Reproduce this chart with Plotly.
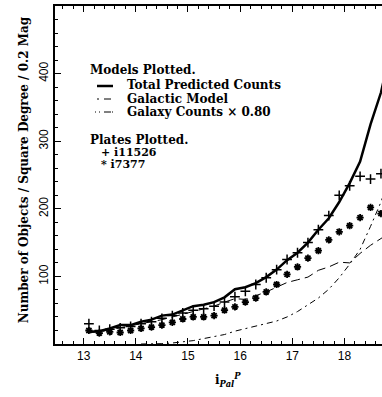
import plotly.graph_objects as go

# ---- data ----
mag_models = [13.1, 13.3, 13.5, 13.7, 13.9, 14.1, 14.3, 14.5, 14.7, 14.9,
              15.1, 15.3, 15.5, 15.7, 15.9, 16.1, 16.3, 16.5, 16.7, 16.9,
              17.1, 17.3, 17.5, 17.7, 17.9, 18.1, 18.3, 18.5, 18.7, 18.9]
total_pred = [18, 19, 23, 28, 28, 33, 36, 42, 43.5, 50,
              56, 58, 62, 69, 81, 84, 90, 99, 110, 124,
              135, 150, 169, 186, 210, 238, 270, 325, 372, 440]
galactic = [17, 18, 21, 24, 26, 30, 33, 36, 40, 44,
            48, 52, 56, 62, 67, 66, 71, 77, 84, 91,
            95, 99, 109, 114, 121, 120, 134, 146, 156, 166]

mag_galaxy = [14.1, 14.3, 14.5, 14.7, 14.9, 15.1, 15.3, 15.5, 15.7, 15.9,
              16.1, 16.3, 16.5, 16.7, 16.9, 17.1, 17.3, 17.5, 17.7, 17.9,
              18.1, 18.3, 18.5, 18.7, 18.9]
galaxy_x080 = [0, 0, 0.5, 1.5, 3, 5, 8, 11, 14, 19,
               23, 27, 31, 34, 40, 48, 58, 68, 81, 98,
               118, 140, 174, 210, 255]

mag_plates = [13.1, 13.3, 13.5, 13.7, 13.9, 14.1, 14.3, 14.5, 14.7, 14.9,
              15.1, 15.3, 15.5, 15.7, 15.9, 16.1, 16.3, 16.5, 16.7, 16.9,
              17.1, 17.3, 17.5, 17.7, 17.9, 18.1, 18.3, 18.5, 18.7]
plate_i11526 = [30, 20, 22, 24, 26, 30, 33, 38, 42, 46,
                50, 52, 56, 62, 70, 78, 88, 98, 110, 125,
                135, 150, 169, 190, 220, 234, 248, 244, 252]
plate_i7377 = [20, 16, 18, 17, 20, 23, 25, 28, 32, 37,
               40, 40, 42, 50, 55, 62, 68, 77, 88, 103,
               114, 127, 138, 154, 166, 175, 187, 202, 193]

x_ticks = [13, 14, 15, 16, 17, 18]
y_ticks = [100, 200, 300, 400]

SERIF = "DejaVu Serif"
SANS = "Liberation Sans"

fig = go.Figure()
fig.add_trace(go.Scatter(x=mag_galaxy, y=galaxy_x080, mode="lines",
                         line=dict(color="black", width=1, dash="6px,4px,2px,4px")))
fig.add_trace(go.Scatter(x=mag_models, y=galactic, mode="lines",
                         line=dict(color="black", width=1, dash="9px,5px")))
fig.add_trace(go.Scatter(x=mag_models, y=total_pred, mode="lines",
                         line=dict(color="black", width=2.5)))
fig.add_trace(go.Scatter(x=mag_plates, y=plate_i11526, mode="markers",
                         marker=dict(symbol="cross-thin-open", size=7, color="black",
                                     line=dict(color="black", width=1.5))))
fig.add_trace(go.Scatter(x=mag_plates, y=plate_i7377, mode="markers",
                         marker=dict(symbol="asterisk-open", size=6, color="black",
                                     line=dict(color="black", width=1.8))))

axis_common = dict(showline=True, linecolor="black", linewidth=1.5,
                   ticks="inside", tickcolor="black", tickwidth=1, ticklen=6,
                   showgrid=False, zeroline=False,
                   tickfont=dict(family=SANS, size=12, color="black"))

fig.update_xaxes(range=[12.45, 18.72], tickvals=x_ticks, mirror="ticks",
                 minor=dict(dtick=0.2, ticks="inside", ticklen=3, tickcolor="black", showgrid=False),
                 **axis_common)
fig.update_yaxes(range=[0, 500], tickvals=y_ticks, mirror=False, tickangle=-90,
                 minor=dict(dtick=20, ticks="inside", ticklen=3, tickcolor="black", showgrid=False),
                 **axis_common)

ann = []
def txt(x, y, s, size=12, **kw):
    d = dict(x=x, y=y, xref="paper", yref="paper", text=s, showarrow=False,
             font=dict(family=SERIF, size=size, color="black"),
             xanchor="left", yanchor="middle")
    d.update(kw)
    ann.append(d)

txt(0.101, 0.811, "<b>Models Plotted.</b>")
txt(0.214, 0.766, "<b>Total Predicted Counts</b>")
txt(0.214, 0.725, "<b>Galactic Model</b>")
txt(0.214, 0.686, "<b>Galaxy Counts × 0.80</b>")
txt(0.101, 0.604, "<b>Plates Plotted.</b>")
txt(0.135, 0.568, "<b>+ i11526</b>", size=11)
txt(0.135, 0.530, "<b>* i7377</b>", size=11)
# axis titles
txt(-0.094, 0.515, "<b>Number of Objects / Square Degree / 0.2 Mag</b>",
    xanchor="center", textangle=-90)
txt(0.529, -0.106, "<b>i<sub><i>Pal</i></sub><sup><i>P</i></sup></b>", xanchor="center")
fig.update_layout(annotations=ann)

def px_x(p):
    return (p - 55) / 327.0
def px_y(p):
    return (344 - p) / 338.0

shapes = [
    dict(type="line", xref="paper", yref="paper", x0=px_x(97), x1=px_x(113),
         y0=px_y(86), y1=px_y(86), line=dict(color="black", width=2.5)),
    dict(type="line", xref="paper", yref="paper", x0=px_x(97), x1=px_x(113),
         y0=px_y(99), y1=px_y(99), line=dict(color="black", width=1, dash="2px,5px,7px")),
    dict(type="line", xref="paper", yref="paper", x0=px_x(95), x1=px_x(113),
         y0=px_y(112), y1=px_y(112), line=dict(color="black", width=1, dash="1px,3px,1px,4px,7px")),
]
fig.update_layout(shapes=shapes)

fig.update_layout(width=382, height=397, margin=dict(l=55, r=0, t=6, b=53),
                  paper_bgcolor="white", plot_bgcolor="white", showlegend=False)

fig.write_html("out.html")
